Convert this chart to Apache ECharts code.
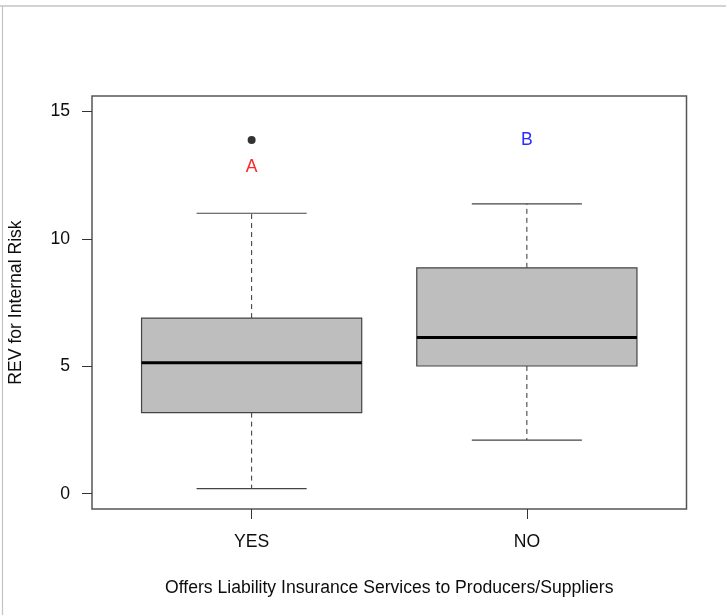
<!DOCTYPE html>
<html>
<head>
<meta charset="utf-8">
<script src="https://cdn.jsdelivr.net/npm/echarts@6/dist/echarts.min.js"></script>
<style>
  html, body { margin: 0; padding: 0; background: #fff; }
  #chart { width: 726px; height: 615px; }
</style>
</head>
<body>
<div id="chart"></div>
<script>
// Groups on the horizontal axis (positions 1, 2)
const categories = ['YES', 'NO'];

// Five-number summaries per group
const lowerWhisker = [0.2, 2.1];
const q1 = [3.18, 5.01];
const median = [5.14, 6.13];
const q3 = [6.89, 8.86];
const upperWhisker = [11.0, 11.37];

// Outlying points: [group index, value]
const outliers = [[0, 13.87]];

// Significance letters above each group
const groupLetters = ['A', 'B'];
const letterY = [12.88, 13.93];
const letterColors = ['#ff2626', '#2b2bff'];

// Y axis tick values
const yTicks = [0, 5, 10, 15];

const FONT = '"Liberation Sans", Arial, Helvetica, sans-serif';
const FS = 17.6;
const TEXT = '#0d0d0d';

const boxData = categories.map((c, i) => [i + 1, lowerWhisker[i], q1[i], median[i], q3[i], upperWhisker[i]]);
const letterData = groupLetters.map((t, i) => [i + 1, letterY[i], i]);

const BOX_HALF = 0.4;   // half box width in axis units
const CAP_HALF = 0.2;   // half whisker-cap width

function renderBox(params, api) {
  const x = api.value(0);
  const lo = api.value(1), b1 = api.value(2), md = api.value(3), b3 = api.value(4), hi = api.value(5);
  const p = (xx, yy) => api.coord([xx, yy]);
  const dashStyle = { stroke: '#333', lineWidth: 1, lineDash: [5, 4] };
  const solid = { stroke: '#444', lineWidth: 1.2 };
  const boxTL = p(x - BOX_HALF, b3), boxBR = p(x + BOX_HALF, b1);
  return {
    type: 'group',
    children: [
      { type: 'line', shape: { x1: p(x, b3)[0], y1: p(x, b3)[1], x2: p(x, hi)[0], y2: p(x, hi)[1] }, style: dashStyle },
      { type: 'line', shape: { x1: p(x, b1)[0], y1: p(x, b1)[1], x2: p(x, lo)[0], y2: p(x, lo)[1] }, style: dashStyle },
      { type: 'line', shape: { x1: p(x - CAP_HALF, hi)[0], y1: p(x, hi)[1], x2: p(x + CAP_HALF, hi)[0], y2: p(x, hi)[1] }, style: solid },
      { type: 'line', shape: { x1: p(x - CAP_HALF, lo)[0], y1: p(x, lo)[1], x2: p(x + CAP_HALF, lo)[0], y2: p(x, lo)[1] }, style: solid },
      { type: 'rect', shape: { x: boxTL[0], y: boxTL[1], width: boxBR[0] - boxTL[0], height: boxBR[1] - boxTL[1] },
        style: { fill: '#bebebe', stroke: '#444', lineWidth: 1.2 } },
      { type: 'line', shape: { x1: p(x - BOX_HALF, md)[0], y1: p(x, md)[1], x2: p(x + BOX_HALF, md)[0], y2: p(x, md)[1] },
        style: { stroke: '#000', lineWidth: 3 } }
    ]
  };
}

// Letters are centred on their value; canvas 'middle' sits slightly high, so nudge down
function renderLetter(params, api) {
  const pt = api.coord([api.value(0), api.value(1)]);
  const i = api.value(2);
  return {
    type: 'text',
    x: pt[0], y: pt[1] + 1.5,
    style: {
      text: groupLetters[i], fill: letterColors[i],
      font: FS + 'px ' + FONT, align: 'center', verticalAlign: 'middle'
    }
  };
}

const chart = echarts.init(document.getElementById('chart'), null, { renderer: 'canvas' });

chart.setOption({
  animation: false,
  backgroundColor: '#fff',
  textStyle: { fontFamily: FONT },
  grid: {
    left: 92, right: 39.5, top: 96, bottom: 106,
    outerBoundsMode: 'none', containLabel: false,
    show: true, borderColor: '#555', borderWidth: 1.5, backgroundColor: 'transparent'
  },
  xAxis: {
    type: 'value',
    min: 0.42, max: 2.58,
    axisLine: { show: false, onZero: false },
    splitLine: { show: false },
    axisTick: { show: true, customValues: [1, 2], length: 10, lineStyle: { color: '#333', width: 1 } },
    axisLabel: {
      customValues: [1, 2], margin: 24,
      formatter: v => categories[Math.round(v) - 1] || '',
      color: TEXT, fontSize: FS, fontFamily: FONT
    },
    name: 'Offers Liability Insurance Services to Producers/Suppliers',
    nameLocation: 'middle', nameGap: 70,
    nameTextStyle: { color: TEXT, fontSize: FS, fontFamily: FONT }
  },
  yAxis: {
    type: 'value',
    min: -0.6, max: 15.6,
    axisLine: { show: false, onZero: false },
    splitLine: { show: false },
    axisTick: { show: true, customValues: yTicks, length: 10, lineStyle: { color: '#333', width: 1 } },
    axisLabel: {
      customValues: yTicks, margin: 22,
      color: TEXT, fontSize: FS, fontFamily: FONT
    },
    name: 'REV for Internal Risk',
    nameLocation: 'middle', nameGap: 67, nameRotate: 90,
    nameTextStyle: { color: TEXT, fontSize: FS, fontFamily: FONT }
  },
  graphic: [
    { type: 'line', shape: { x1: 0, y1: 6, x2: 726, y2: 6 }, style: { stroke: '#c4c4c4', lineWidth: 1.5 }, silent: true },
    { type: 'line', shape: { x1: 2.5, y1: 6, x2: 2.5, y2: 615 }, style: { stroke: '#c4c4c4', lineWidth: 1.2 }, silent: true }
  ],
  series: [
    {
      type: 'custom',
      renderItem: renderBox,
      encode: { x: 0, y: [1, 2, 3, 4, 5] },
      data: boxData,
      z: 2
    },
    {
      type: 'scatter',
      symbol: 'circle',
      symbolSize: 8,
      itemStyle: { color: '#000' },
      data: outliers.map(o => [o[0] + 1, o[1]]),
      z: 3
    },
    {
      type: 'custom',
      renderItem: renderLetter,
      encode: { x: 0, y: 1 },
      data: letterData,
      z: 3
    }
  ]
});
</script>
</body>
</html>
